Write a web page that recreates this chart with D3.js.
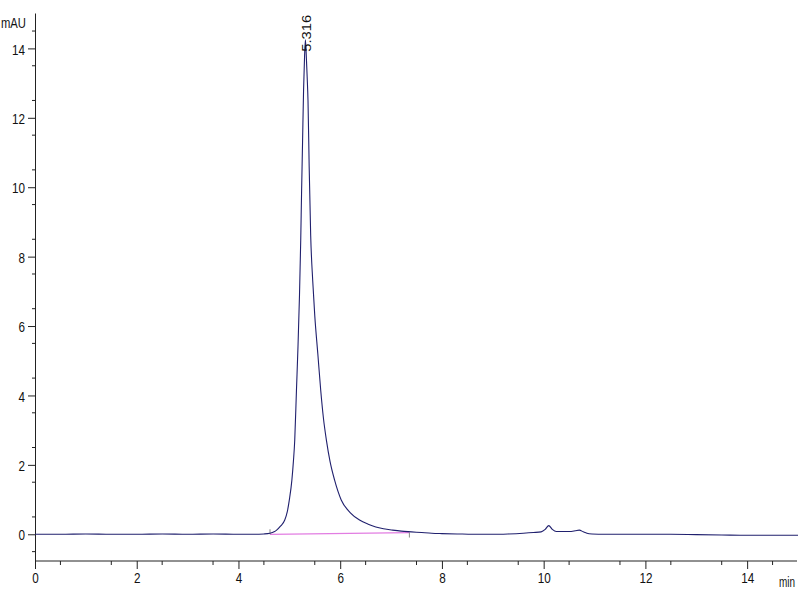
<!DOCTYPE html>
<html>
<head>
<meta charset="utf-8">
<script src="https://cdn.jsdelivr.net/npm/d3@7"></script>
<style>
body { margin: 0; background: #fff; }
svg text { font-family: "Liberation Sans", Arial, sans-serif; fill: #111; }
</style>
</head>
<body>
<div class="chrom"></div>
<script>
// retention time (min) and signal (mAU)
const times = [0, 0.5, 1, 1.5, 2, 2.5, 3, 3.5, 4, 4.3, 4.5, 4.62, 4.7, 4.75, 4.83, 4.91, 4.96, 5.0, 5.05, 5.08,
	5.106, 5.14, 5.17, 5.2, 5.224, 5.24, 5.26, 5.28, 5.3, 5.316, 5.33, 5.35, 5.367, 5.39, 5.42, 5.46, 5.5, 5.56,
	5.617, 5.67, 5.73, 5.8, 5.89, 6.02, 6.2, 6.38, 6.55, 6.7, 6.85, 7.03, 7.2, 7.4, 7.6, 7.8, 8.0, 8.3, 8.6, 9.0,
	9.3, 9.6, 9.8, 9.95, 10.03, 10.1, 10.17, 10.25, 10.35, 10.5, 10.62, 10.7, 10.78, 10.85, 10.95, 11.2, 11.5,
	12, 12.5, 13, 13.5, 14, 14.5, 15];
const signal = [0, 0, 0.01, 0, 0, 0.01, 0, 0.01, 0, 0, 0.01, 0.03, 0.07, 0.12, 0.24, 0.41, 0.65, 0.99, 1.56, 2.1,
	2.7, 4.15, 5.4, 6.9, 8.47, 9.8, 11.3, 12.8, 13.8, 14.25, 13.9, 13.2, 12.5, 10.6, 8.6, 7.3, 6.3, 5.2,
	4.15, 3.35, 2.7, 2.1, 1.56, 0.99, 0.62, 0.41, 0.29, 0.21, 0.16, 0.12, 0.09, 0.07, 0.05, 0.03, 0.02, 0.01, 0, 0,
	0.01, 0.03, 0.05, 0.07, 0.14, 0.25, 0.14, 0.08, 0.08, 0.08, 0.1, 0.12, 0.07, 0.03, 0.01, 0, 0,
	0, 0, -0.01, -0.02, -0.03, -0.03, -0.03];

// integration baseline of the main peak
const baseTimes = [4.62, 7.36];
const baseSignal = [0, 0.05];

const peakTimes = [5.316];
const peakHeights = [14.25];

const xTicks = [0, 2, 4, 6, 8, 10, 12, 14];
const yTicks = [0, 2, 4, 6, 8, 10, 12, 14];

const width = 800;
const height = 600;

const svg = d3.select('.chrom')
	.append('svg')
	.attr('width', width)
	.attr('height', height);

const x = d3.scaleLinear().domain([0, 15]).range([35, 798]);
const y = d3.scaleLinear().domain([-0.77, 15.02]).range([561, 13]);

// minor ticks every 0.5
const xMinor = d3.range(0.5, 15, 1);
const yMinor = d3.range(-0.5, 15, 1);

// the original font is a narrow one, squeeze the text to match
const narrow = s => String(s).length * 6.5;

const xAxis = svg.append('g')
	.attr('transform', 'translate(0,561)')
	.call(d3.axisBottom(x).tickValues(xTicks).tickFormat(d3.format('d')).tickSize(8).tickSizeOuter(0));
xAxis.select('.domain').attr('stroke', '#222').attr('d', 'M35,0H797');
xAxis.selectAll('.tick line').attr('stroke', '#222');
xAxis.selectAll('.tick text')
	.attr('font-size', 15)
	.attr('y', 8)
	.attr('dy', '0.9em')
	.attr('textLength', d => narrow(d))
	.attr('lengthAdjust', 'spacingAndGlyphs');

svg.append('g')
	.selectAll('line')
	.data(xMinor)
	.enter()
	.append('line')
	.attr('x1', d => x(d))
	.attr('x2', d => x(d))
	.attr('y1', 561)
	.attr('y2', 565)
	.attr('stroke', '#222');

const yAxis = svg.append('g')
	.attr('transform', 'translate(35,0)')
	.call(d3.axisLeft(y).tickValues(yTicks).tickFormat(d3.format('d')).tickSize(7).tickSizeOuter(0));
yAxis.select('.domain').attr('stroke', '#222');
yAxis.selectAll('.tick line').attr('stroke', '#222');
yAxis.selectAll('.tick text')
	.attr('font-size', 15)
	.attr('x', -10)
	.attr('dy', '0.38em')
	.attr('textLength', d => narrow(d))
	.attr('lengthAdjust', 'spacingAndGlyphs');

svg.append('g')
	.selectAll('line')
	.data(yMinor)
	.enter()
	.append('line')
	.attr('x1', 32)
	.attr('x2', 35)
	.attr('y1', d => y(d))
	.attr('y2', d => y(d))
	.attr('stroke', '#222');

svg.append('text')
	.attr('x', 26)
	.attr('y', 28)
	.attr('text-anchor', 'end')
	.attr('font-size', 15)
	.attr('textLength', 25)
	.attr('lengthAdjust', 'spacingAndGlyphs')
	.text('mAU');

svg.append('text')
	.attr('x', 779)
	.attr('y', 587)
	.attr('font-size', 15)
	.attr('textLength', 16)
	.attr('lengthAdjust', 'spacingAndGlyphs')
	.text('min');

// baseline
svg.append('line')
	.attr('x1', x(baseTimes[0]))
	.attr('y1', y(baseSignal[0]))
	.attr('x2', x(baseTimes[1]))
	.attr('y2', y(baseSignal[1]))
	.attr('stroke', '#e27de2')
	.attr('stroke-width', 1.2);

svg.append('line')
	.attr('x1', x(baseTimes[0])).attr('x2', x(baseTimes[0]))
	.attr('y1', y(baseSignal[0]) - 5).attr('y2', y(baseSignal[0]))
	.attr('stroke', '#888');
svg.append('line')
	.attr('x1', x(baseTimes[1])).attr('x2', x(baseTimes[1]))
	.attr('y1', y(baseSignal[1])).attr('y2', y(baseSignal[1]) + 5)
	.attr('stroke', '#888');

const trace = times.map((t, i) => [t, signal[i]]);
const line = d3.line()
	.x(d => x(d[0]))
	.y(d => y(d[1]))
	.curve(d3.curveMonotoneX);

svg.append('path')
	.datum(trace)
	.attr('d', line)
	.attr('fill', 'none')
	.attr('stroke', '#20206e')
	.attr('stroke-width', 1.1);

// peak label
svg.selectAll('text.peak')
	.data(peakTimes)
	.enter()
	.append('text')
	.attr('class', 'peak')
	.attr('transform', (d, i) => 'translate(' + (x(d) + 6) + ',' + (y(peakHeights[i]) + 12) + ') rotate(-90)')
	.attr('font-size', 13)
	.attr('textLength', 37)
	.attr('lengthAdjust', 'spacingAndGlyphs')
	.text(d => d3.format('.3f')(d));
</script>
</body>
</html>
